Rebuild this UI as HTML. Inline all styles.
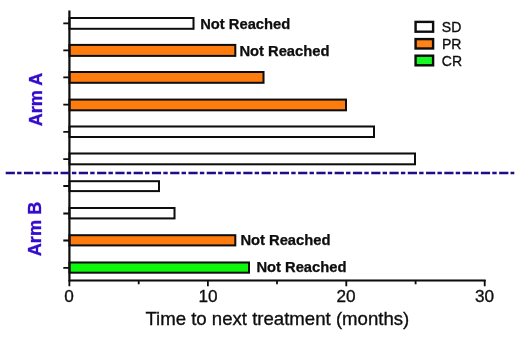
<!DOCTYPE html>
<html><head><meta charset="utf-8"><style>
html,body{margin:0;padding:0;background:#fff;}
svg{display:block;font-family:"Liberation Sans",Arial,sans-serif;}
</style></head><body>
<svg width="520" height="344" viewBox="0 0 520 344">
<defs><filter id="soft" x="0" y="0" width="520" height="344" filterUnits="userSpaceOnUse"><feGaussianBlur stdDeviation="0.45"/></filter></defs>
<rect width="520" height="344" fill="#fff"/>
<g filter="url(#soft)">
<g stroke="#0a0a0a" stroke-width="2">
<rect x="69.5" y="18" width="124" height="10.800" fill="#fff"/>
<rect x="69.5" y="44.900" width="165.800" height="11" fill="#fe7b08"/>
<rect x="69.500" y="72" width="194" height="10.800" fill="#fe7b08"/>
<rect x="69.5" y="99.600" width="276.500" height="10.700" fill="#fe7b08"/>
<rect x="69.5" y="126.500" width="304.500" height="10.500" fill="#fff"/>
<rect x="69.5" y="153.500" width="345.500" height="10.800" fill="#fff"/>
<rect x="69.5" y="181.200" width="89.500" height="9.900" fill="#fff"/>
<rect x="69.5" y="208" width="105" height="10.400" fill="#fff"/>
<rect x="69.5" y="235.200" width="165.800" height="10.200" fill="#fe7b08"/>
<rect x="69.5" y="262.500" width="179.500" height="10.200" fill="#0cf810"/>
</g>
<g stroke="#0a0a0a" stroke-width="2.200" fill="none">
<path d="M69.400 10.400V280.500H485.700"/>
<path d="M69.400 280v6.200M207.900 280v6.200M346.300 280v6.200M484.700 280v6.200M138.700 280v4.200M277 280v4.200M415.600 280v4.200" stroke-width="1.800"/>
<path d="M63.300 23.300h6M63.300 50.300h6M63.300 77.400h6M63.300 104.700h6M63.300 131.900h6M63.300 159.100h6M63.300 186h6M63.300 213.500h6M63.300 240.500h6M63.300 267.800h6" stroke-width="1.800"/>
</g>
<path d="M5.700 172.900H514.300" stroke="#1e1088" stroke-width="2.500" stroke-dasharray="9.200 2.200 4.400 2.476" fill="none"/>
<g font-weight="bold" font-size="14.740" fill="#0a0a0a" stroke="#0a0a0a" stroke-width="0.250">
<text x="200.200" y="28.800">Not Reached</text>
<text x="239.400" y="55.600">Not Reached</text>
<text x="240.400" y="245.300">Not Reached</text>
<text x="256.400" y="272.400">Not Reached</text>
</g>
<g font-size="17.200" fill="#0a0a0a" stroke="#0a0a0a" stroke-width="0.300" text-anchor="middle">
<text x="69" y="302.200">0</text>
<text x="208" y="302.200">10</text>
<text x="346" y="302.200">20</text>
<text x="484.500" y="302.200">30</text>
</g>
<text x="145.400" y="324.800" font-size="18.600" fill="#0a0a0a" stroke="#0a0a0a" stroke-width="0.300">Time to next treatment (months)</text>
<g font-weight="bold" font-size="18" fill="#3308cc" stroke="#3308cc" stroke-width="0.3" text-anchor="middle">
<text transform="translate(41.800 99.500) rotate(-90)">Arm A</text>
<text transform="translate(40.900 229) rotate(-90)" font-size="18.200">Arm B</text>
</g>
<g stroke="#0a0a0a" stroke-width="2.400">
<rect x="415.600" y="21.900" width="17.500" height="9.800" fill="#fff"/>
<rect x="415.600" y="39.100" width="17.500" height="9.400" fill="#ff8212"/>
<rect x="415.600" y="55.700" width="17.500" height="9.600" fill="#14f820"/>
</g>
<g font-size="14" fill="#0a0a0a" stroke="#0a0a0a" stroke-width="0.300">
<text x="441.800" y="32.200">SD</text>
<text x="442" y="49.400">PR</text>
<text x="441.800" y="66.400">CR</text>
</g>
</g>
</svg>
</body></html>
